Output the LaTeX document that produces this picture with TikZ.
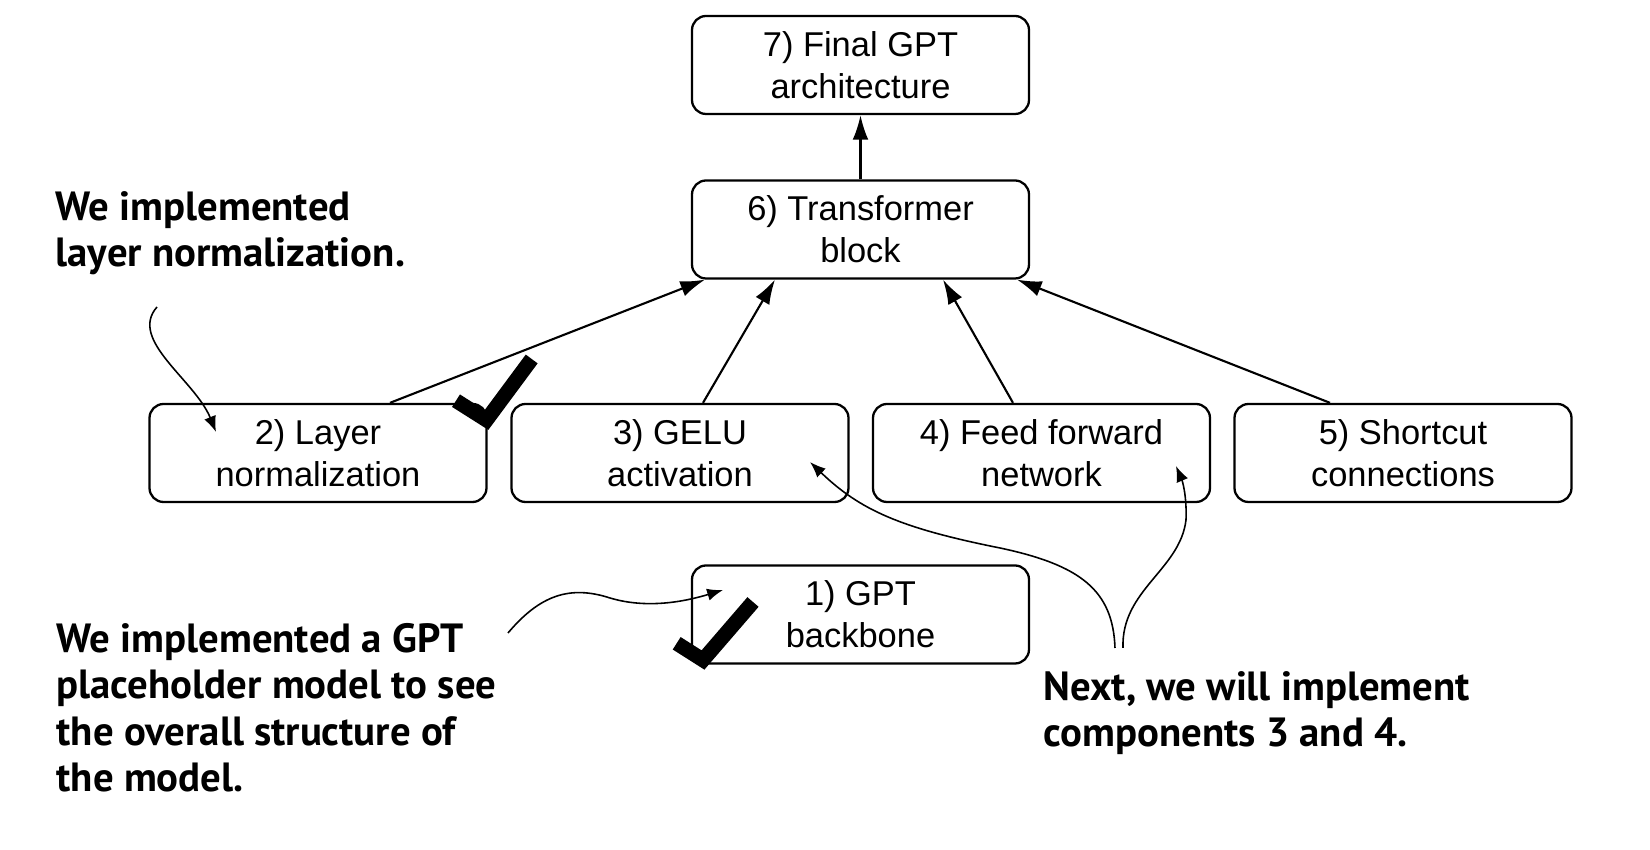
\documentclass[tikz,border=0pt]{standalone}
\usepackage{fontspec}
\setmainfont{Liberation Sans}
\newfontfamily\notefont{PT Sans}
\usetikzlibrary{arrows.meta}

\tikzset{
  blk/.style={draw, line width=0.65pt, rounded corners=4pt, minimum width=3.37cm,
    minimum height=0.98cm, inner sep=1pt, align=center,
    font=\fontsize{9.8}{11.9}\selectfont},
  note/.style={anchor=north west, inner sep=0pt, align=left,
    font=\notefont\bfseries\fontsize{11.6}{13.2}\selectfont},
  link/.style={line width=0.6pt, -{Latex[length=7pt,width=4.5pt]}},
  curly/.style={line width=0.45pt, -{Latex[length=4.5pt,width=3.5pt]}},
  donemark/.style={line width=4.2pt, line join=miter},
}

\begin{document}
\begin{tikzpicture}
 \useasboundingbox (0,0) rectangle (16.5,-8.5);
 % boxes
 \node[blk] (final) at (8.605,-0.65) {7) Final GPT\\architecture};
 \node[blk] (block) at (8.605,-2.295) {6) Transformer\\block};
 \node[blk] (norm) at (3.18,-4.53) {2) Layer\\normalization};
 \node[blk] (gelu) at (6.80,-4.53) {3) GELU\\activation};
 \node[blk] (ffn) at (10.415,-4.53) {4) Feed forward\\network};
 \node[blk] (short) at (14.03,-4.53) {5) Shortcut\\connections};
 \node[blk] (backbone) at (8.605,-6.145) {1) GPT\\backbone};

 \draw[link] (block.north) -- (final.south);
 \draw[link] ([xshift=0.72cm]norm.north) -- ([xshift=-1.555cm]block.south);
 \draw[link] ([xshift=0.23cm]gelu.north) -- ([xshift=-0.855cm]block.south);
 \draw[link] ([xshift=-0.285cm]ffn.north) -- ([xshift=0.825cm]block.south);
 \draw[link] ([xshift=-0.73cm]short.north) -- ([xshift=1.565cm]block.south);

 % done marks
 \draw[donemark] (4.56,-4.007) -- (4.865,-4.20) -- (5.317,-3.59);
 \draw[donemark] (6.767,-6.433) -- (7.03,-6.60) -- (7.53,-6.02);

 % notes
 \node[note] (lnote) at (0.55,-1.905) {We implemented\\layer normalization.};
 \node[note] (gnote) at (0.56,-6.225) {We implemented a GPT\\placeholder model to see\\the overall structure of\\the model.};
 \node[note] (nnote) at (10.43,-6.705) {Next, we will implement\\components 3 and 4.};

 \coordinate (lnstart) at (1.57,-3.07);
 \coordinate (lnend) at (2.16,-4.32);
 \coordinate (gstart) at (5.08,-6.33);
 \coordinate (gend) at (7.23,-5.90);
 \coordinate (nstarta) at (11.15,-6.48);
 \coordinate (nenda) at (8.10,-4.62);
 \coordinate (nstartb) at (11.23,-6.48);
 \coordinate (nendb) at (11.76,-4.66);

 \draw[curly] (lnstart) .. controls (1.28,-3.40) and (1.95,-3.80) .. (lnend);
 \draw[curly] (gstart) .. controls (5.40,-5.95) and (5.70,-5.85) .. (6.10,-5.98)
   .. controls (6.50,-6.10) and (6.90,-6.00) .. (gend);
 \draw[curly] (nstarta) .. controls (11.13,-5.90) and (10.80,-5.65) .. (10.00,-5.48)
   .. controls (9.00,-5.28) and (8.60,-5.10) .. (nenda);
 \draw[curly] (nstartb) .. controls (11.21,-5.90) and (11.80,-5.70) .. (11.86,-5.20)
   .. controls (11.87,-4.95) and (11.82,-4.80) .. (nendb);
\end{tikzpicture}
\end{document}
